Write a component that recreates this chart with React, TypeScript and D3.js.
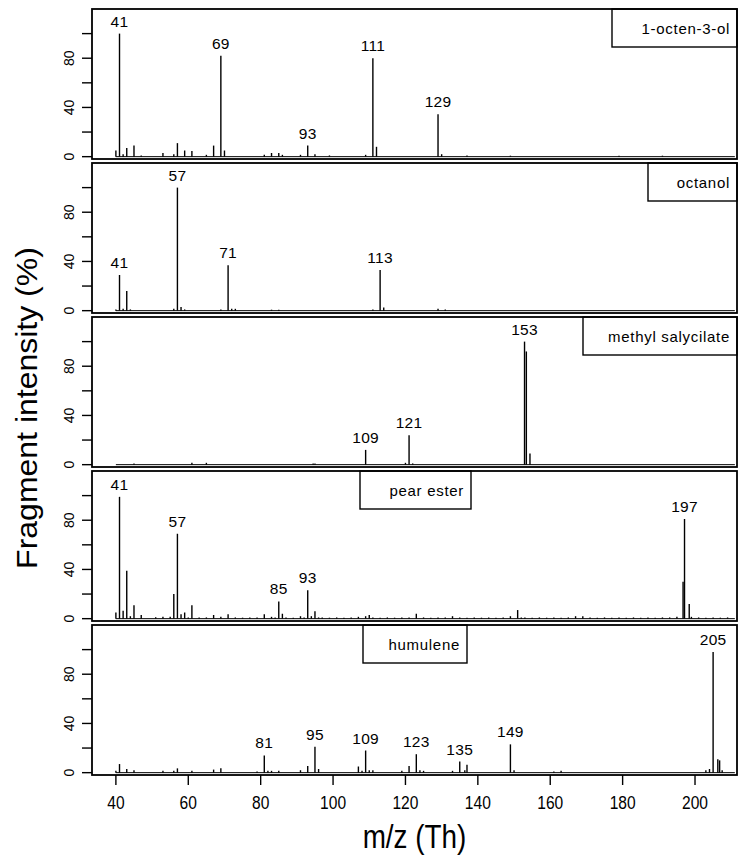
import * as d3 from "d3";

// ---------- DATA (m/z, intensity %) ----------
const compoundNames = ["1-octen-3-ol", "octanol", "methyl salycilate", "pear ester", "humulene"];

const octenolPeaks: [number, number][] = [
  [40, 5], [41, 100], [42, 2], [43, 7], [45, 9], [47, 1], [53, 3], [56, 2], [57, 11], [59, 5],
  [61, 4.5], [65, 1.5], [67, 9], [69, 82], [70, 5], [81, 1.5], [83, 3], [85, 3], [86, 1.5],
  [91, 1.5], [93, 9], [95, 2], [99, 1], [109, 1.5], [111, 80], [112, 8], [129, 34.5], [130, 2],
  [137, 1], [149, 0.8], [179, 0.8], [191, 0.8],
];
const octenolLabels = [41, 69, 93, 111, 129];

const octanolPeaks: [number, number][] = [
  [40, 1], [41, 29], [42, 1.5], [43, 16], [44, 1], [56, 1.5], [57, 100], [58, 3], [59, 1],
  [69, 1], [71, 37], [72, 1.5], [73, 1.5], [83, 0.8], [85, 0.8], [111, 1], [113, 33], [114, 2.5],
  [129, 1.5], [131, 1],
];
const octanolLabels = [41, 57, 71, 113];

const salicylatePeaks: [number, number][] = [
  [45, 1], [61, 1.5], [65, 1.5], [94.5, 1], [95, 1], [109, 12], [120, 1.5], [121, 24], [122, 1],
  [152.9, 100], [153.4, 92], [154.4, 9],
];
const salicylateLabels = [109, 121, 153];

const pearEsterPeaks: [number, number][] = [
  [40, 5], [41, 99], [42, 6.5], [43, 39], [44, 2], [45, 11], [47, 3], [51, 1.2], [53, 1.5],
  [55, 1.5], [56, 20], [57, 69], [58, 3.5], [59, 5], [60, 1], [61, 11], [63, 1], [65, 1],
  [67, 3], [69, 1.5], [71, 3.5], [73, 1], [75, 0.8], [77, 1], [79, 1], [81, 3.5], [83, 1.5],
  [84, 1], [85, 14], [86, 4], [87, 1], [89, 0.8], [91, 2], [92, 1], [93, 23], [94, 2], [95, 6],
  [96, 1], [97, 1], [99, 0.8], [101, 1], [103, 0.8], [105, 1], [107, 1.5], [109, 2], [110, 3],
  [111, 1], [113, 0.8], [115, 1], [117, 0.8], [119, 1], [121, 1], [123, 4], [125, 1], [127, 0.8],
  [129, 1], [131, 1], [133, 2], [135, 1], [137, 0.8], [139, 1], [141, 0.8], [143, 1], [145, 0.8],
  [147, 1], [149, 2], [151, 7], [152, 1], [153, 1], [155, 0.8], [157, 1], [159, 0.8], [161, 1],
  [163, 0.8], [165, 1], [167, 2], [169, 2], [171, 1], [173, 0.8], [175, 1], [177, 0.8], [179, 1],
  [181, 0.8], [183, 1], [185, 0.8], [187, 1], [189, 0.8], [191, 1], [193, 1], [195, 1.5],
  [196.7, 30], [197.1, 81], [198.4, 12], [199, 1.5], [201, 1], [203, 0.8], [205, 1], [207, 0.8],
  [209, 1],
];
const pearEsterLabels = [41, 57, 85, 93, 197];

const humulenePeaks: [number, number][] = [
  [40, 1.5], [41, 7], [43, 3], [45, 2], [53, 1.5], [56, 1.5], [57, 3.5], [61, 1.5], [67, 2.5],
  [69, 3.5], [79, 1], [81, 14], [82, 1.5], [83, 1.5], [85, 1.5], [91, 2], [93, 5.5], [95, 21],
  [96, 3], [107, 5], [108, 1.5], [109, 18], [110, 2], [111, 2], [119, 1.5], [121, 5.5], [123, 15],
  [124, 2], [125, 1.5], [133, 1.5], [135, 9], [136.4, 2], [137, 6.5], [149, 23], [150, 2],
  [161, 1], [163, 1.5], [203, 2], [204, 3], [205, 98], [206.3, 11], [206.8, 10], [207.5, 2],
];
const humuleneLabels = [81, 95, 109, 123, 135, 149, 205];

const spectra = [octenolPeaks, octanolPeaks, salicylatePeaks, pearEsterPeaks, humulenePeaks];
const peakLabels = [octenolLabels, octanolLabels, salicylateLabels, pearEsterLabels, humuleneLabels];

const xTicks = [40, 60, 80, 100, 120, 140, 160, 180, 200];
const yTicks = [0, 20, 40, 60, 80, 100];
const yTickLabels = [0, 40, 80];

// legend box placement per panel [left, right]
const legendBoxes: [number, number][] = [[612, 737], [648, 737], [583, 737], [360, 471], [363, 467]];

const W = 746;
const H = 856;
const left = 92;
const right = 737;
const firstTop = 9;
const pitch = 154;
const panelH = 150;
const font = "'Liberation Sans', Arial, sans-serif";

export default function App() {
  const x = d3.scaleLinear().domain([33.4, 211.6]).range([left, right]);
  const lastBottom = firstTop + 4 * pitch + panelH;

  return (
    <svg width={W} height={H} style={{ position: "absolute", left: 0, top: 0, background: "#fff" }}>
      <rect x={0} y={0} width={W} height={H} fill="#fff" />
      {spectra.map((peaks, i) => {
        const top = firstTop + i * pitch;
        const y = d3.scaleLinear().domain([-1.9, 120]).range([top + panelH, top]);
        const [bx0, bx1] = legendBoxes[i];
        return (
          <g key={i}>
            {/* baseline */}
            <line x1={x(40)} x2={x(211)} y1={y(0)} y2={y(0)} stroke="#000" strokeWidth={1} />
            {peaks.map(([m, v], j) => (
              <line key={j} x1={x(m)} x2={x(m)} y1={y(0)} y2={y(v)} stroke="#000" strokeWidth={1.4} />
            ))}
            {peakLabels[i].map((lab) => {
              const cand = peaks.filter(([m]) => Math.abs(m - lab) < 0.7);
              const best = cand.reduce((a, b) => (b[1] > a[1] ? b : a));
              return (
                <text key={lab} x={x(best[0])} y={y(best[1]) - 7} textAnchor="middle"
                  fontFamily={font} fontSize={15.5} letterSpacing={0.3} fill="#000">{lab}</text>
              );
            })}
            {/* y axis */}
            {yTicks.map((t) => (
              <line key={t} x1={left - 10} x2={left} y1={y(t)} y2={y(t)} stroke="#000" strokeWidth={1.4} />
            ))}
            {yTickLabels.map((t) => (
              <text key={t} transform={`translate(${left - 18},${y(t)}) rotate(-90)`} textAnchor="middle"
                fontFamily={font} fontSize={14} fill="#000">{t}</text>
            ))}
            {/* legend */}
            <rect x={bx0} y={top} width={bx1 - bx0} height={38} fill="#fff" stroke="#000" strokeWidth={1.4} />
            <text x={bx1 - 7} y={top + 25} textAnchor="end" fontFamily={font} fontSize={15}
              letterSpacing={0.7} fill="#000">{compoundNames[i]}</text>
            {/* frame */}
            <rect x={left} y={top} width={right - left} height={panelH} fill="none" stroke="#000" strokeWidth={1.8} />
          </g>
        );
      })}
      {/* x axis */}
      {xTicks.map((t) => (
        <g key={t}>
          <line x1={x(t)} x2={x(t)} y1={lastBottom} y2={lastBottom + 10} stroke="#000" strokeWidth={1.4} />
          <text transform={`translate(${x(t)},${lastBottom + 34}) scale(0.82,1)`} textAnchor="middle"
            fontFamily={font} fontSize={19} fill="#000">{t}</text>
        </g>
      ))}
      <text transform={`translate(${(left + right) / 2},${H - 8}) scale(0.82,1)`} textAnchor="middle"
        fontFamily={font} fontSize={34} fill="#000">m/z (Th)</text>
      <text transform={`translate(37,408) scale(0.92,1) rotate(-90)`} textAnchor="middle"
        fontFamily={font} fontSize={32} fill="#000">Fragment intensity (%)</text>
    </svg>
  );
}
